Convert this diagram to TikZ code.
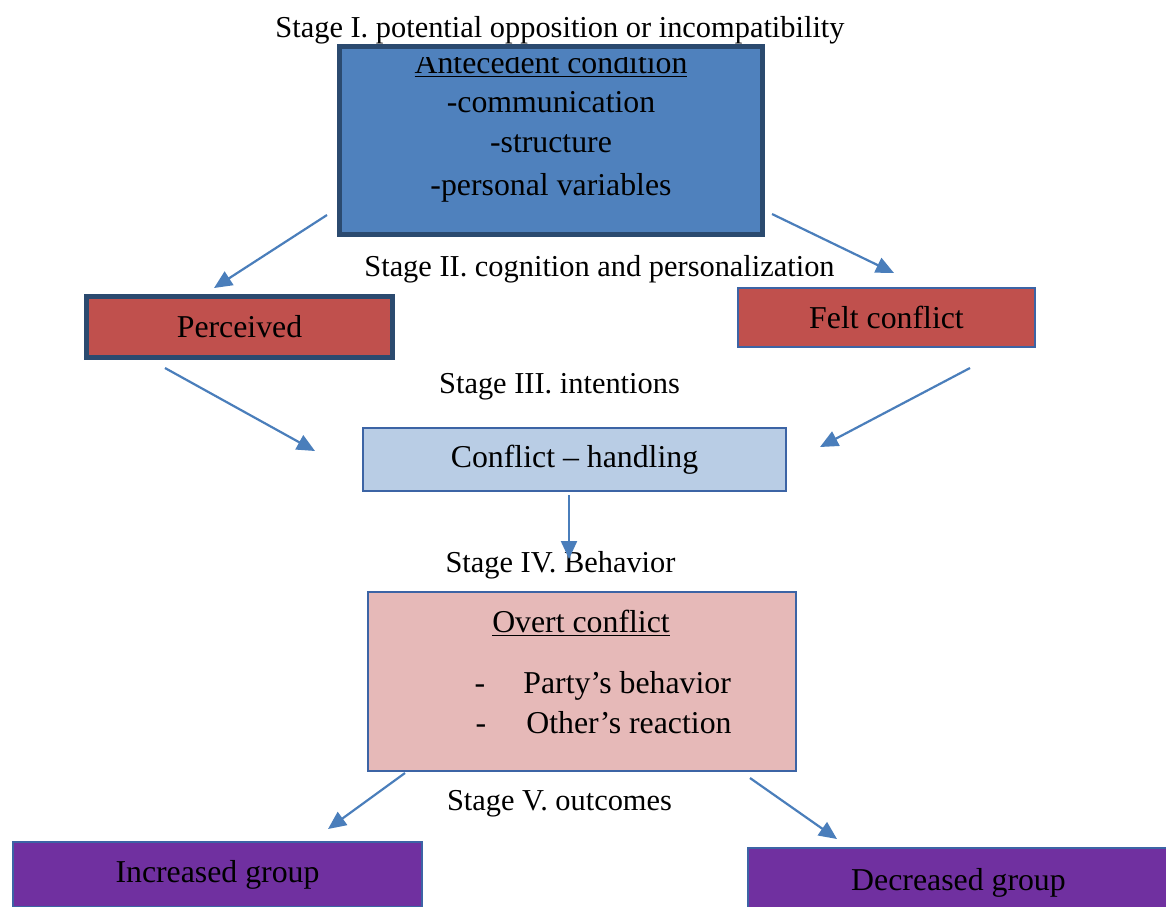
\documentclass[tikz,border=0pt]{standalone}
\usepackage{fontspec}
\setmainfont{Liberation Serif}
\usetikzlibrary{arrows.meta}

\definecolor{navyline}{HTML}{2B4A6F}
\definecolor{thinblue}{HTML}{3C64A5}
\definecolor{arrowblue}{HTML}{4A7EBB}
\definecolor{antefill}{HTML}{4F81BD}
\definecolor{redfill}{HTML}{C0504D}
\definecolor{handlfill}{HTML}{B9CDE5}
\definecolor{overtfill}{HTML}{E6B9B8}
\definecolor{groupfill}{HTML}{7030A0}

\begin{document}
\begin{tikzpicture}[x=0.5pt,y=-0.5pt,
    boxtext/.style={font=\fontsize{15.9}{19}\selectfont},
    linetext/.style={boxtext,anchor=base,inner sep=0pt},
    stagetext/.style={font=\fontsize{15.2}{18}\selectfont,anchor=base,inner sep=0pt},
    thickbox/.style={draw=navyline,line width=2.5pt,boxtext},
    thinbox/.style={draw=thinblue,line width=1pt,boxtext},
    conn/.style={draw=arrowblue,line width=1.1pt,-{Triangle[length=9pt,width=8pt]}}]
  \clip (0,0) rectangle (1166,906);

  % boxes
  \node[thickbox,fill=antefill,minimum width=211.5pt,minimum height=94pt] (ante) at (551,140.5) {};
  \node[thickbox,fill=redfill,minimum width=153pt,minimum height=30.5pt] (perc) at (239.5,327) {Perceived};
  \node[thinbox,fill=redfill,minimum width=148.5pt,minimum height=29.5pt] (felt) at (886.5,317.5) {Felt conflict};
  \node[thinbox,fill=handlfill,minimum width=211.5pt,minimum height=31.5pt] (handl) at (574.5,459.5) {Conflict – handling};
  \node[thinbox,fill=overtfill,minimum width=214pt,minimum height=89.5pt] (overt) at (582,681.5) {};
  \node[thinbox,fill=groupfill,minimum width=204.5pt,minimum height=32.5pt] (incr) at (217.5,874.5) {Increased group};
  \node[thinbox,fill=groupfill,minimum width=210.5pt,minimum height=34.5pt] (decr) at (958.5,882.5) {Decreased group};

  % antecedent lines
  \begin{scope}
    \clip (339.5,57) rectangle (762.5,234.5);
    \node[linetext] (antehead) at (551,73) {\underline{Antecedent condition}};
  \end{scope}
  \foreach \t/\y [count=\i] in {-communication/112,-structure/152,-personal variables/195}
    \node[linetext] (anteline\i) at (551,\y) {\t};

  % overt conflict lines
  \node[linetext] (overthead) at (581,632) {\underline{Overt conflict}};
  \node[linetext] (dash1) at (480,693) {-};
  \node[linetext] (dash2) at (481,733) {-};
  \node[linetext,anchor=base west] (party) at (523,693) {Party’s behavior};
  \node[linetext,anchor=base west] (other) at (526,733) {Other’s reaction};

  % stages
  \node[stagetext] (st1) at (560,37) {Stage I. potential opposition or incompatibility};
  \node[stagetext] (st2) at (599.5,276) {Stage II. cognition and personalization};
  \node[stagetext] (st3) at (559.5,393) {Stage III. intentions};
  \node[stagetext] (st4) at (560.5,572) {Stage IV. Behavior};
  \node[stagetext] (st5) at (559.5,810) {Stage V. outcomes};

  % arrow ends
  \coordinate (ante-l) at (327,215);   \coordinate (perc-in) at (214,288);
  \coordinate (ante-r) at (772,214);   \coordinate (felt-in) at (894,273);
  \coordinate (perc-out) at (165,368); \coordinate (handl-l) at (315,451);
  \coordinate (felt-out) at (970,368); \coordinate (handl-r) at (820,447);
  \coordinate (handl-b) at (569,495);  \coordinate (overt-in) at (569,559);
  \coordinate (overt-l) at (405,773);  \coordinate (incr-in) at (328,829);
  \coordinate (overt-r) at (750,778);  \coordinate (decr-in) at (837,839);

  \draw[conn] (ante-l) -- (perc-in);
  \draw[conn] (ante-r) -- (felt-in);
  \draw[conn] (perc-out) -- (handl-l);
  \draw[conn] (felt-out) -- (handl-r);
  \draw[conn] (handl-b) -- (overt-in);
  \draw[conn] (overt-l) -- (incr-in);
  \draw[conn] (overt-r) -- (decr-in);
\end{tikzpicture}
\end{document}
